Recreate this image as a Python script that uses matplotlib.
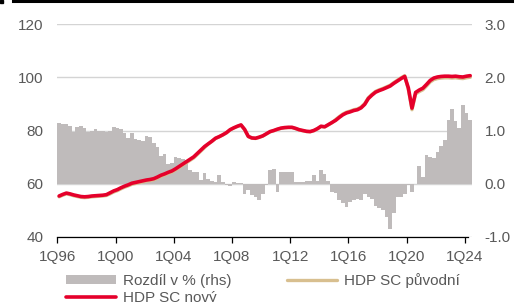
import matplotlib
matplotlib.use("Agg")
import matplotlib.pyplot as plt
from matplotlib.lines import Line2D
from matplotlib.patches import Rectangle
import numpy as np

plt.rcParams['font.family'] = ['Liberation Sans', 'DejaVu Sans']

# quarterly data 1Q96 .. 2Q24
tick_labels = ["1Q96", "1Q00", "1Q04", "1Q08", "1Q12", "1Q16", "1Q20", "1Q24"]
tick_index = [0, 16, 32, 48, 64, 80, 96, 112]

diff_pct = [1.14, 1.12, 1.13, 1.09, 0.97, 1.06, 1.08, 1.05, 0.97, 0.99, 1.03, 1.00, 0.99, 0.98, 0.99, 1.06,
            1.05, 1.03, 0.95, 0.86, 0.96, 0.84, 0.83, 0.80, 0.89, 0.88, 0.76, 0.69, 0.53, 0.56, 0.37, 0.39,
            0.50, 0.49, 0.46, 0.44, 0.25, 0.22, 0.22, 0.07, 0.20, 0.09, 0.06, 0.03, 0.16, 0.04, -0.03, -0.05,
            0.04, 0.01, 0.01, -0.19, -0.12, -0.22, -0.25, -0.31, -0.19, -0.02, 0.25, 0.27, -0.16, 0.22, 0.23, 0.22,
            0.23, 0.04, 0.03, 0.03, 0.06, 0.06, 0.17, 0.06, 0.25, 0.19, 0.06, -0.16, -0.18, -0.30, -0.36, -0.44,
            -0.34, -0.31, -0.28, -0.30, -0.19, -0.25, -0.28, -0.41, -0.45, -0.50, -0.63, -0.85, -0.54, -0.25, -0.25, -0.19,
            -0.03, -0.16, -0.01, 0.33, 0.13, 0.54, 0.51, 0.49, 0.60, 0.70, 0.82, 1.20, 1.41, 1.17, 1.04, 1.47,
            1.33, 1.19]

hdp_new = [55.4, 56.0, 56.5, 56.2, 55.8, 55.5, 55.2, 55.1, 55.2, 55.4, 55.5, 55.6, 55.7, 55.9,
           56.6, 57.3, 57.8, 58.5, 59.1, 59.6, 60.2, 60.5, 60.8, 61.1, 61.4, 61.6, 61.9, 62.5, 63.2, 63.7,
           64.3, 64.8, 65.6, 66.5, 67.4, 68.3, 69.2, 70.1, 71.4, 72.7, 74.0,
           75.0, 76.0, 77.1, 77.7, 78.4, 79.2, 80.3, 81.0, 81.6, 82.1, 80.4, 77.8, 77.2, 77.1, 77.5, 78.0,
           78.8, 79.6, 80.0, 80.5, 80.9, 81.1, 81.2, 81.2, 80.8, 80.3, 80.0, 79.7, 79.6, 80.0, 80.7, 81.6,
           81.4, 82.2, 83.0,
           83.8, 84.9, 85.9, 86.6, 87.0, 87.5, 87.8, 88.5, 89.8, 92.0, 93.3, 94.4, 95.0, 95.5, 96.1, 96.7,
           97.7, 98.6, 99.5, 100.3,
           96.0, 88.4, 94.3, 95.2, 95.9, 97.3, 98.8, 99.7, 100.1, 100.3, 100.4, 100.4, 100.3, 100.4, 100.2,
           100.1, 100.4, 100.6]

hdp_orig = [55.1, 55.7, 56.2, 55.9, 55.5, 55.2, 54.9, 54.8, 54.9, 55.1, 55.2, 55.3, 55.4, 55.6,
            56.2, 56.9, 57.4, 58.1, 58.7, 59.2, 59.8, 60.1, 60.4, 60.7, 61.0, 61.2, 61.5, 62.1, 62.8, 63.3,
            63.9, 64.4, 65.2, 66.1, 67.0, 67.9, 68.8, 69.7, 71.0, 72.3, 73.6,
            74.9, 75.9, 77.0, 77.6, 78.3, 79.1, 80.2, 80.9, 81.5, 82.0, 80.3, 77.7, 77.1, 77.0, 77.4, 77.9,
            78.7, 79.5, 79.9, 80.4, 80.8, 81.0, 81.1, 81.1, 80.7, 80.2, 79.9, 79.6, 79.5, 79.9, 80.6, 81.5,
            81.3, 82.1, 82.9,
            84.1, 85.2, 86.2, 86.9, 87.3, 87.8, 88.1, 88.8, 90.1, 92.3, 93.6, 94.7, 95.3, 95.8, 96.4, 97.0,
            98.0, 98.9, 99.8, 100.6,
            95.4, 87.8, 93.7, 94.6, 95.3, 96.7, 98.2, 99.1, 99.5, 99.7, 99.8, 99.8, 99.7, 99.8, 99.6,
            99.5, 99.8, 100.0]

BAR_C = "#bfbbbb"
RED = "#e5002b"
BEIGE = "#d8bf8f"
TXT = "#595959"
GRID = "#d4d4d4"

W, H = 528, 302
fig = plt.figure(figsize=(W / 100, H / 100), dpi=100)
x0, x1 = 57.3, 472.0
y_top, y_bot = 24.0, 237.0
ax = fig.add_axes([x0 / W, 1 - y_bot / H, (x1 - x0) / W, (y_bot - y_top) / H])
ax2 = ax.twinx()
ax.set_zorder(2)
ax2.set_zorder(1)
ax.patch.set_visible(False)

n = len(diff_pct)
xb = np.arange(n)
bars = ax2.bar(xb, diff_pct, width=1.0, align='edge', color=BAR_C, linewidth=0, label="Rozdíl v % (rhs)")
xl = np.arange(n) + 0.5
l_orig, = ax.plot(xl, hdp_orig, color=BEIGE, lw=2.4, solid_capstyle='round', label="HDP SC původní")
l_new, = ax.plot(xl, hdp_new, color=RED, lw=2.6, solid_capstyle='round', label="HDP SC nový")

ax.set_xlim(0, n)
ax.set_ylim(40, 120)
ax2.set_ylim(-1.0, 3.0)
ax.set_yticks([40, 60, 80, 100, 120])
ax2.set_yticks([-1.0, 0.0, 1.0, 2.0, 3.0])
ax2.set_yticklabels(["-1.0", "0.0", "1.0", "2.0", "3.0"])
ax2.set_axisbelow(True)
ax2.yaxis.grid(True, color=GRID, lw=1.0)
ax2.set_ylim(-1.0, 3.0)

ax.set_xticks(tick_index)
ax.set_xticklabels(tick_labels)

for a in (ax, ax2):
    for s in a.spines.values():
        s.set_visible(False)
ax.spines['bottom'].set_visible(True)
ax.spines['bottom'].set_color('black')
ax.spines['bottom'].set_linewidth(0.9)
ax.spines['bottom'].set_bounds(0, 113)

ax.tick_params(axis='y', length=0, pad=10, labelsize=11, labelcolor=TXT)
ax2.tick_params(axis='y', length=0, pad=9, labelsize=11, labelcolor=TXT)
ax.tick_params(axis='x', length=4, width=0.9, color='black', pad=5, labelsize=11, labelcolor=TXT)

fig.legend(handles=[bars, l_new, l_orig],
           labels=["Rozdíl v % (rhs)", "HDP SC nový", "HDP SC původní"],
           ncol=2, loc='upper left', bbox_to_anchor=(66 / W, 1 - 273 / H),
           frameon=False, fontsize=11, handlelength=3.3, handleheight=0.55,
           handletextpad=0.45, columnspacing=3.6, labelspacing=0.2,
           borderpad=0, borderaxespad=0, labelcolor=TXT)

# top border line
fig.add_artist(Line2D([13 / W, 512 / W], [1 - 1 / H, 1 - 1 / H], color='black', lw=2.2,
                      transform=fig.transFigure))
fig.add_artist(Rectangle((0, 1 - 2.5 / H), 3 / W, 2.5 / H, color='black', transform=fig.transFigure))

fig.savefig("out.png", dpi=100)
